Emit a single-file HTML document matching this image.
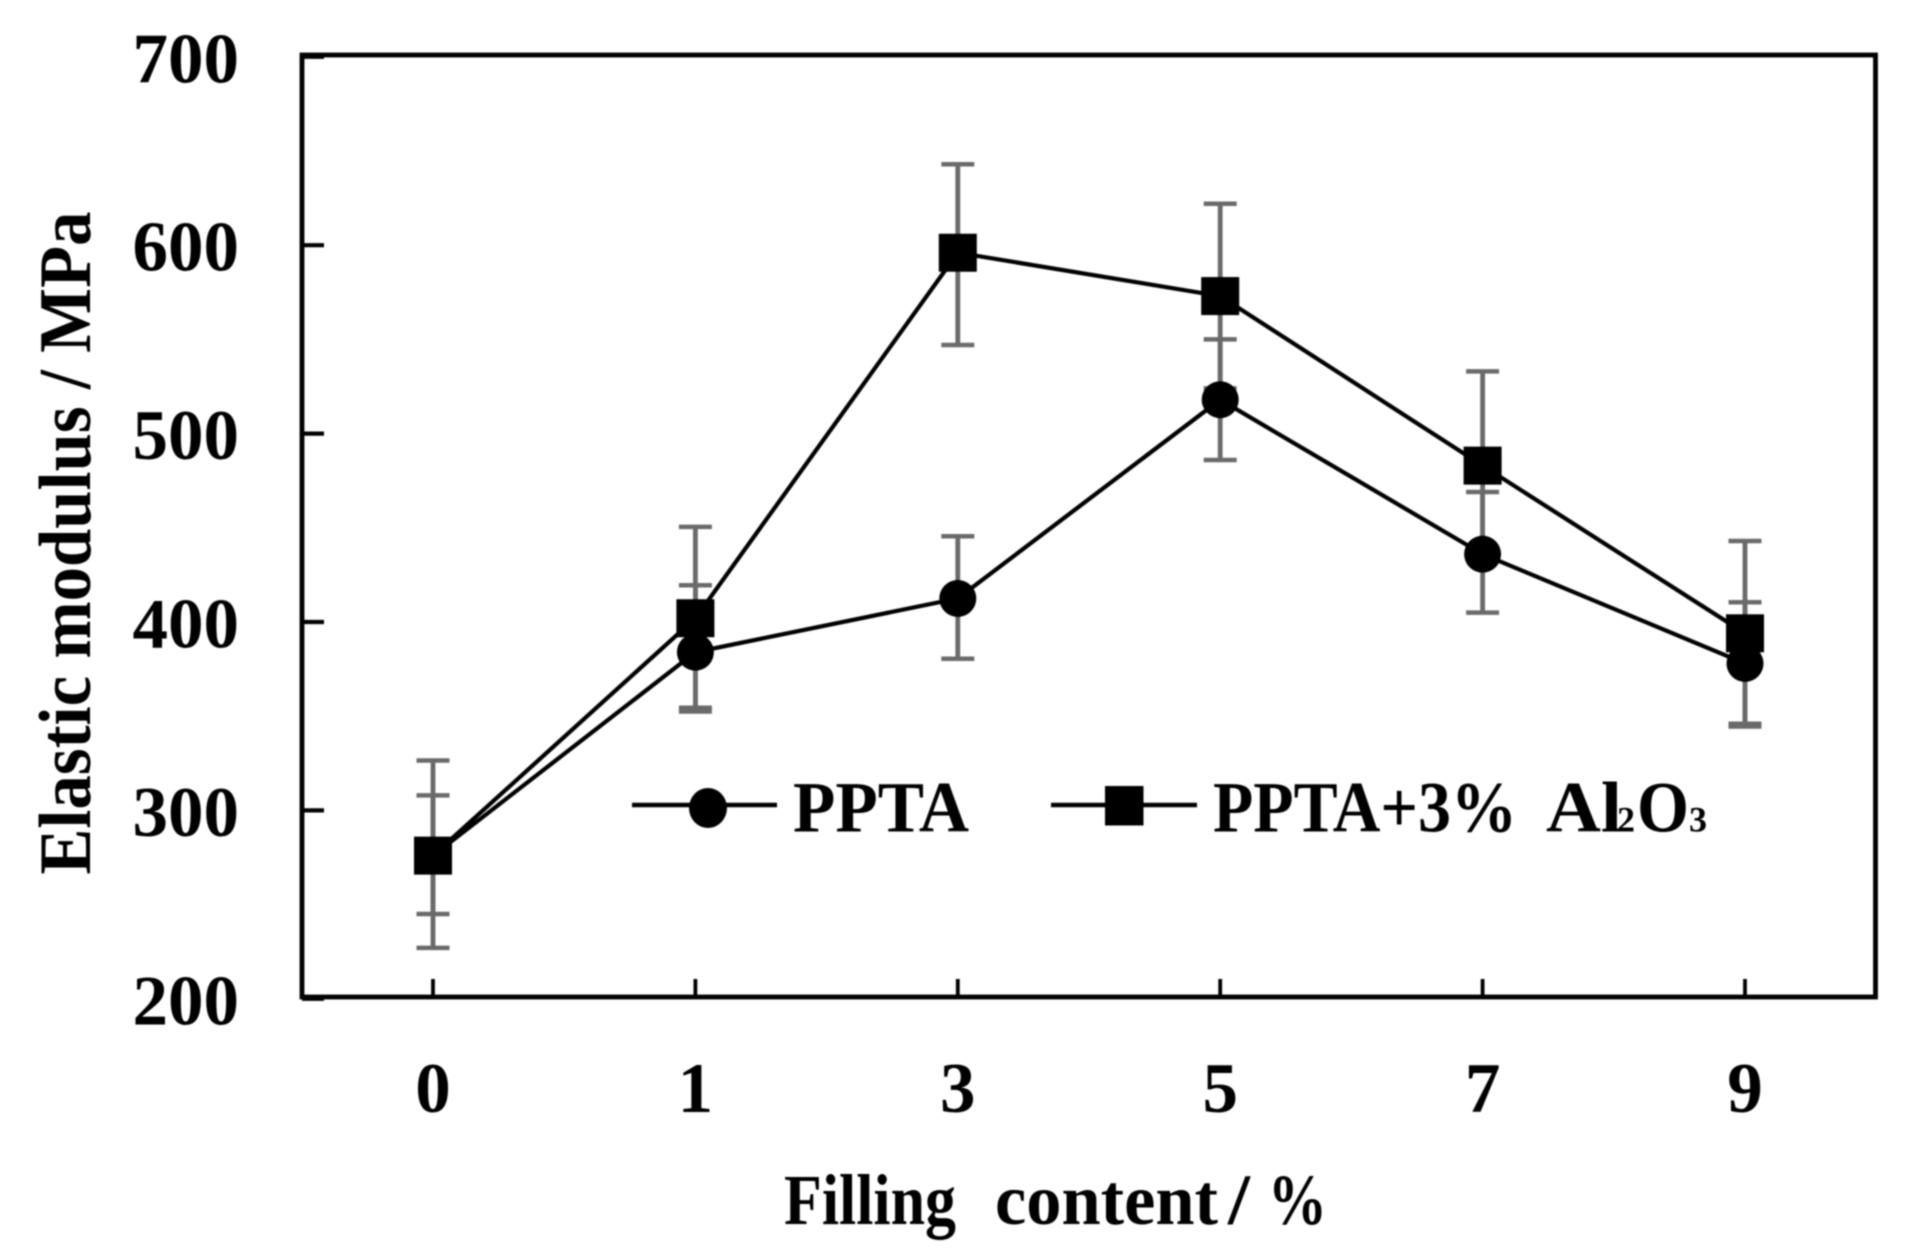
<!DOCTYPE html>
<html lang="en">
<head>
<meta charset="utf-8">
<title>Elastic modulus vs filling content</title>
<style>
  html, body { margin: 0; padding: 0; background: #fff; }
  body { width: 1913px; height: 1255px; overflow: hidden; }
  svg { display: block; filter: blur(0.7px); }
  text { font-family: "Liberation Serif", serif; font-weight: bold; fill: #000; }
</style>
</head>
<body>
<svg id="chart" xmlns="http://www.w3.org/2000/svg" width="1913" height="1255" viewBox="0 0 1913 1255">
  <rect x="0" y="0" width="1913" height="1255" fill="#fff"/>
  <g id="ticks"></g>
  <g id="tick-labels"></g>
  <rect x="302" y="55" width="1573.5" height="942" fill="none" stroke="#000" stroke-width="4.8"/>
  <g id="errors"></g>
  <g id="series"></g>
  <text transform="translate(90 543) rotate(-90)" text-anchor="middle" font-size="74" textLength="663" lengthAdjust="spacingAndGlyphs">Elastic modulus / MPa</text>
  <g>
    <text x="784" y="1224" font-size="72" textLength="172" lengthAdjust="spacingAndGlyphs">Filling</text>
    <text x="995" y="1224" font-size="72" textLength="223" lengthAdjust="spacingAndGlyphs">content</text>
    <text x="1228" y="1224" font-size="72" textLength="22" lengthAdjust="spacingAndGlyphs">/</text>
    <text x="1268" y="1224" font-size="72" textLength="59" lengthAdjust="spacingAndGlyphs">%</text>
  </g>
  <g>
    <g>
      <line x1="632" y1="805" x2="777" y2="805" stroke="#000" stroke-width="4.5"/>
      <ellipse cx="708" cy="808" rx="19" ry="20" fill="#000"/>
      <text x="793" y="831.5" font-size="72" textLength="176" lengthAdjust="spacingAndGlyphs">PPTA</text>
    </g>
    <g>
      <line x1="1051" y1="805" x2="1197" y2="805" stroke="#000" stroke-width="4.5"/>
      <rect x="1105" y="786" width="38.5" height="39.5" fill="#000"/>
      <text x="1213" y="831.5" font-size="72" textLength="304" lengthAdjust="spacingAndGlyphs">PPTA+3%</text>
      <text x="1546" y="831.5" font-size="72" textLength="76" lengthAdjust="spacingAndGlyphs">Al</text>
      <text x="1617" y="831.5" font-size="36">2</text>
      <text x="1637" y="831.5" font-size="72" textLength="52" lengthAdjust="spacingAndGlyphs">O</text>
      <text x="1689" y="831.5" font-size="36">3</text>
    </g>
  </g>
</svg>
<script>
const categories = ["0", "1", "3", "5", "7", "9"];
const yTickValues = [200, 300, 400, 500, 600, 700];
const pptaValues = [276, 384, 412.5, 518, 436, 378];
const pptaUpper = [308, 419.5, 445.5, 550, 469, 410.5];
const pptaLower = [245, 354.5, 380.5, 486, 405, 346];
const aluminaValues = [276, 402, 596, 573, 483, 394];
const aluminaUpper = [326.5, 450.5, 643, 622, 533, 443];
const aluminaLower = [227, 352.5, 547, 524, 433, 344.5];

const NS = "http://www.w3.org/2000/svg";
function xAxis(index) { return 433 + index * 262.4; }
function yAxis(value) { return 998.8 - (value - 200) * 1.884; }
function make(tag, parent, attrs, content) {
  const el = document.createElementNS(NS, tag);
  for (const key in attrs) el.setAttribute(key, attrs[key]);
  if (content !== undefined) el.textContent = content;
  parent.appendChild(el);
  return el;
}

const tickGroup = document.getElementById("ticks");
const labelGroup = document.getElementById("tick-labels");
const errorGroup = document.getElementById("errors");
const seriesGroup = document.getElementById("series");

yTickValues.forEach(function (value) {
  const y = yAxis(value);
  const tick = make("line", tickGroup, { x1: 302, x2: 324, y1: y, y2: y, stroke: "#000", "stroke-width": 4.2 });
  
  
  const label = make("text", labelGroup, { x: 239, y: y + 25.5, "text-anchor": "end", "font-size": 71 }, String(value));
  
  
});

categories.forEach(function (category, i) {
  const x = xAxis(i);
  const tick = make("line", tickGroup, { x1: x, x2: x, y1: 979, y2: 997, stroke: "#000", "stroke-width": 3.8 });
  
  
  const label = make("text", labelGroup, { x: x, y: 1112, "text-anchor": "middle", "font-size": 71 }, category);
  
  
});

function drawErrors(upper, lower) {
  categories.forEach(function (category, i) {
    const x = xAxis(i);
    const top = yAxis(upper[i]);
    const bottom = yAxis(lower[i]);
    const stem = make("line", errorGroup, { x1: x, x2: x, y1: top, y2: bottom, stroke: "#6a6a6a", "stroke-width": 4.8 });
    
    
    const capTop = make("line", errorGroup, { x1: x - 16.5, x2: x + 16.5, y1: top, y2: top, stroke: "#6a6a6a", "stroke-width": 4.5 });
    
    
    const capBottom = make("line", errorGroup, { x1: x - 16.5, x2: x + 16.5, y1: bottom, y2: bottom, stroke: "#6a6a6a", "stroke-width": 4.5 });
    
    
  });
}
drawErrors(pptaUpper, pptaLower);
drawErrors(aluminaUpper, aluminaLower);

function linePoints(values) {
  return values.map(function (v, i) { return xAxis(i) + "," + yAxis(v); }).join(" ");
}
const pptaLine = make("polyline", seriesGroup, { points: linePoints(pptaValues), fill: "none", stroke: "#000", "stroke-width": 4.2 });


const aluminaLine = make("polyline", seriesGroup, { points: linePoints(aluminaValues), fill: "none", stroke: "#000", "stroke-width": 4.2 });



pptaValues.forEach(function (v, i) {
  const point = make("circle", seriesGroup, { cx: xAxis(i), cy: yAxis(v), r: 18.5, fill: "#000" });
  
  
});
aluminaValues.forEach(function (v, i) {
  const point = make("rect", seriesGroup, { x: xAxis(i) - 19, y: yAxis(v) - 19, width: 38, height: 38, fill: "#000" });
  
  
});
</script>
</body>
</html>
